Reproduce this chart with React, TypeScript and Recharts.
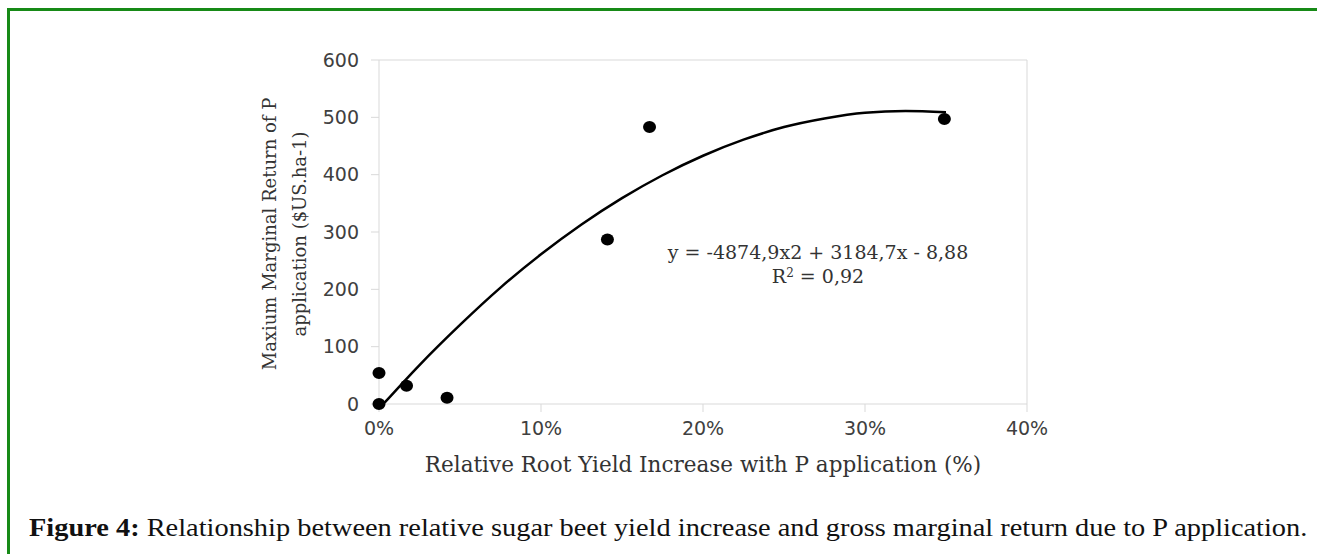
import {
  ComposedChart,
  Line,
  Scatter,
  XAxis,
  YAxis,
  ReferenceLine,
} from "recharts";

// observed points: relative root yield increase (%) vs max marginal return ($US/ha)
const yieldIncrease = [0.0, 0.0, 1.7, 4.2, 14.1, 16.7, 34.9];
const marginalReturn = [54, 0, 32, 11, 287, 483, 497];

// polynomial trendline
const trendX = [0.3, 2.5, 5, 7.5, 10, 12.5, 15, 17.5, 20, 22.5, 25, 27.5, 30, 32.5, 35];
const trendY = [1, 68, 138, 203, 261, 313, 359, 399, 433, 461, 483, 498, 508, 511, 509];

const xTicks = [0, 10, 20, 30, 40];
const yTicks = [0, 100, 200, 300, 400, 500, 600];

const points = yieldIncrease.map((x, i) => ({ x, y: marginalReturn[i] }));
const trend = trendX.map((x, i) => ({ x, y: trendY[i] }));

const axisGrey = "#d9d9d9";
const tickStyle = { fontFamily: "DejaVu Sans", fontSize: 19, fill: "#404040" };
const serif = "DejaVu Serif";

function YTitle(props: any) {
  const vb = props.viewBox;
  const cx = vb.x - 43;
  const cy = vb.y + vb.height / 2 + 2;
  return (
    <g transform={`translate(${cx},${cy}) rotate(-90)`}>
      <text textAnchor="middle" fontFamily={serif} fontSize={18} fill="#333">
        Maxium Marginal Return of P
      </text>
      <text y={30} textAnchor="middle" fontFamily={serif} fontSize={18} fill="#333">
        application ($US.ha-1)
      </text>
    </g>
  );
}

function XTitle(props: any) {
  const vb = props.viewBox;
  return (
    <text
      x={vb.x + vb.width / 2}
      y={472}
      textAnchor="middle"
      fontFamily={serif}
      fontSize={21.5}
      fill="#333"
    >
      Relative Root Yield Increase with P application (%)
    </text>
  );
}

export default function App() {
  return (
    <div
      style={{
        position: "fixed",
        left: 0,
        top: 0,
        width: 1317,
        height: 554,
        background: "#fff",
        overflow: "hidden",
      }}
    >
      <div
        style={{
          position: "absolute",
          left: 7,
          top: 8,
          width: 1400,
          height: 600,
          borderTop: "3px solid #178a17",
          borderLeft: "3px solid #178a17",
        }}
      />
      <ComposedChart
        width={1317}
        height={554}
        margin={{ top: 60, right: 290, bottom: 120, left: 319 }}
        style={{ position: "absolute", left: 0, top: 0 }}
      >
        <XAxis
          type="number"
          dataKey="x"
          domain={[0, 40]}
          ticks={xTicks}
          tickFormatter={(v) => `${v}%`}
          stroke={axisGrey}
          tickSize={8}
          tickMargin={10}
          tick={tickStyle}
          height={30}
          label={{ content: XTitle }}
        />
        <YAxis
          type="number"
          dataKey="y"
          domain={[0, 600]}
          ticks={yTicks}
          stroke={axisGrey}
          tickSize={8}
          tickMargin={12}
          tick={tickStyle}
          width={60}
          label={{ content: YTitle }}
        />
        <ReferenceLine y={600} stroke={axisGrey} strokeWidth={1} />
        <ReferenceLine x={40} stroke={axisGrey} strokeWidth={1} />
        <Line
          data={trend}
          dataKey="y"
          type="monotone"
          stroke="#000"
          strokeWidth={2.5}
          dot={false}
          activeDot={false}
          isAnimationActive={false}
        />
        <Scatter
          data={points}
          dataKey="y"
          fill="#000"
          shape={(p: any) => <ellipse cx={p.cx} cy={p.cy} rx={6.5} ry={6} fill="#000" />}
          isAnimationActive={false}
        />
      </ComposedChart>
      <div
        style={{
          position: "absolute",
          left: 618,
          top: 240,
          width: 400,
          textAlign: "center",
          fontFamily: serif,
          fontSize: 19,
          lineHeight: "24px",
          color: "#333",
        }}
      >
        <div>y = -4874,9x2 + 3184,7x - 8,88</div>
        <div>
          R<sup style={{ fontSize: 12, verticalAlign: "6px", lineHeight: 0 }}>2</sup> = 0,92
        </div>
      </div>
      <div
        style={{
          position: "absolute",
          left: 29,
          top: 514,
          whiteSpace: "nowrap",
          fontFamily: "Liberation Serif",
          fontSize: 25,
          color: "#111",
          transform: "scaleX(1.135)",
          transformOrigin: "0 0",
        }}
      >
        <b>Figure 4:</b> Relationship between relative sugar beet yield increase and gross marginal
        return due to P application.
      </div>
    </div>
  );
}
